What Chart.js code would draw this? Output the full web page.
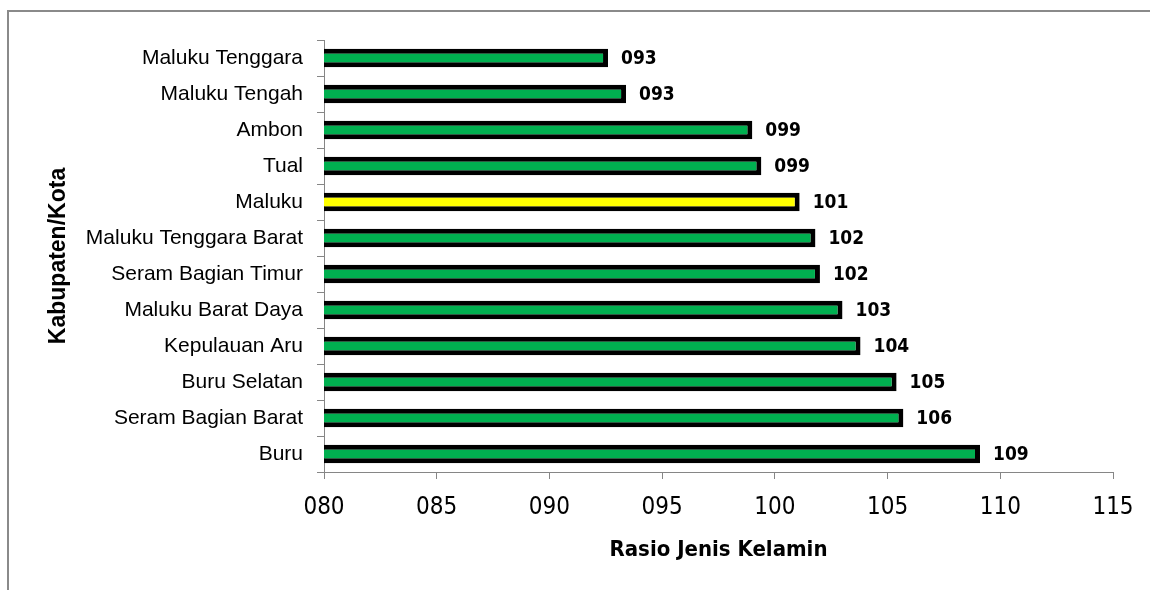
<!DOCTYPE html>
<html>
<head>
<meta charset="utf-8">
<title>Rasio Jenis Kelamin Kabupaten/Kota di Maluku</title>
<script src="https://cdn.jsdelivr.net/npm/chart.js@4.4.1/dist/chart.umd.min.js"></script>
<style>
  html, body { margin: 0; padding: 0; background: #ffffff; overflow: hidden; }
  #frame {
    position: absolute; left: 7px; top: 10px; width: 1300px; height: 800px;
    border-left: 2px solid #8a8a8a; border-top: 2px solid #8a8a8a;
  }
  #chart { position: absolute; left: 0; top: 0; }
</style>
</head>
<body>
<div id="frame"></div>
<canvas id="chart" width="1150" height="590"></canvas>
<script>
// Kabupaten/Kota, listed top to bottom
const regions = [
  'Maluku Tenggara', 'Maluku Tengah', 'Ambon', 'Tual', 'Maluku',
  'Maluku Tenggara Barat', 'Seram Bagian Timur', 'Maluku Barat Daya',
  'Kepulauan Aru', 'Buru Selatan', 'Seram Bagian Barat', 'Buru'
];
// Rasio jenis kelamin (laki-laki per 100 perempuan)
const sexRatio = [92.6, 93.4, 99.0, 99.4, 101.1, 101.8, 102.0, 103.0, 103.8, 105.4, 105.7, 109.1];
// Province total is highlighted
const provinceName = 'Maluku';
const axisMin = 80;
const axisMax = 115;
const axisStep = 5;

const pad3 = v => String(Math.round(v)).padStart(3, '0');

const narrow = "'Liberation Sans Narrow', 'DejaVu Sans Condensed', sans-serif";
const arial = "'Liberation Sans', Arial, sans-serif";
const axisGray = '#868686';

const valueLabels = {
  id: 'valueLabels',
  afterDatasetsDraw(chart) {
    const { ctx } = chart;
    const meta = chart.getDatasetMeta(0);
    ctx.save();
    ctx.font = "bold 19px " + narrow;
    ctx.fillStyle = '#000000';
    ctx.textAlign = 'left';
    ctx.textBaseline = 'middle';
    meta.data.forEach((bar, i) => {
      ctx.fillText(pad3(sexRatio[i]), bar.x + 13, bar.y + 1);
    });
    ctx.restore();
  }
};

new Chart(document.getElementById('chart'), {
  type: 'bar',
  data: {
    labels: regions,
    datasets: [{
      data: sexRatio,
      backgroundColor: regions.map(r => r === provinceName ? '#FFFF00' : '#00B050'),
      borderColor: '#000000',
      borderWidth: 5,
      borderSkipped: false,
      barPercentage: 0.52,
      categoryPercentage: 1.0
    }]
  },
  options: {
    indexAxis: 'y',
    responsive: false,
    animation: false,
    events: [],
    layout: { padding: { left: 0, top: 40, right: 37, bottom: 0 } },
    plugins: {
      legend: { display: false },
      tooltip: { enabled: false }
    },
    scales: {
      x: {
        type: 'linear',
        min: axisMin,
        max: axisMax,
        ticks: {
          stepSize: axisStep,
          color: '#000000',
          padding: 14,
          font: { family: narrow, size: 24 },
          callback: v => pad3(v)
        },
        grid: {
          drawOnChartArea: false,
          drawTicks: true,
          tickLength: 7,
          color: axisGray,
          lineWidth: 1
        },
        border: { display: true, color: axisGray, width: 1 },
        title: {
          display: true,
          text: 'Rasio Jenis Kelamin',
          color: '#000000',
          font: { family: narrow, size: 22, weight: 'bold', lineHeight: 1.2 },
          padding: { top: 0, bottom: 27 }
        },
        afterFit(scale) { scale.height = 118; }
      },
      y: {
        type: 'category',
        ticks: {
          color: '#000000',
          padding: 14,
          font: { family: arial, size: 21 }
        },
        grid: {
          offset: true,
          drawOnChartArea: false,
          drawTicks: true,
          tickLength: 7,
          color: axisGray,
          lineWidth: 1
        },
        border: { display: true, color: axisGray, width: 1 },
        title: {
          display: true,
          text: 'Kabupaten/Kota',
          color: '#000000',
          font: { family: arial, size: 23, weight: 'bold', lineHeight: 1.2 },
          padding: { top: 45, bottom: 0 }
        },
        afterFit(scale) { scale.width = 324; }
      }
    }
  },
  plugins: [valueLabels]
});
</script>
</body>
</html>
